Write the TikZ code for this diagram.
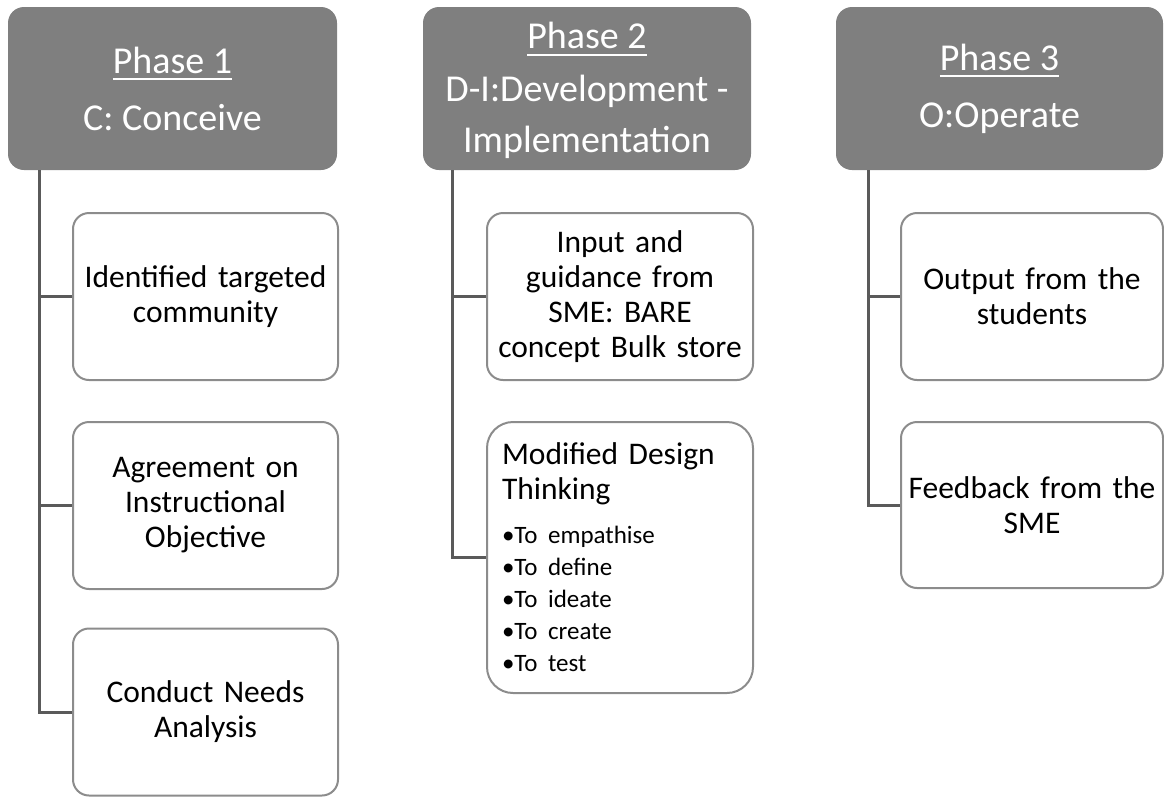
\documentclass[tikz,border=0pt]{standalone}
\usepackage{fontspec}
\setmainfont{Carlito}
\setlength{\parindent}{0pt}
\setlength{\parskip}{0pt}
\definecolor{headgray}{HTML}{7F7F7F}
\definecolor{edgegray}{HTML}{8C8C8C}
\definecolor{linegray}{HTML}{5A5A5A}
% underlined phase title with a thin rule a little below the baseline
\newcommand{\phasetitle}[1]{\setbox0\hbox{#1}\rlap{\rule[-7pt]{\wd0}{2pt}}\box0}
\tikzset{
  headbox/.style={fill=headgray, rounded corners=16pt, minimum height=163pt,
    text=white, font=\fontsize{38}{51}\selectfont, align=center, inner sep=0pt},
  childbox/.style={draw=edgegray, line width=2pt, fill=white, rounded corners=16pt,
    minimum height=167pt, align=center, text width=250pt,
    font=\fontsize{31.5}{35}\selectfont, inner sep=0pt},
  conn/.style={draw=linegray, line width=3pt}
}
\begin{document}
\begin{tikzpicture}[x=1pt,y=-1pt]
\useasboundingbox (0,0) rectangle (1164,796);

% ---- Phase 1 ----
\node[headbox, minimum width=329pt] (h1) at (172.5,88.5)
  {\phasetitle{Phase 1}\\[6pt]C: Conceive};
\node[childbox, minimum width=265pt] (c11) at (205.5,296.5)
  {Identified targeted\\community};
\node[childbox, minimum width=265pt] (c12) at (205.5,505.5)
  {Agreement on\\Instructional\\Objective};
\node[childbox, minimum width=265pt] (c13) at (205.5,712)
  {Conduct Needs\\Analysis};

% ---- Phase 2 ----
\node[headbox, minimum width=328pt] (h2) at (587,88.5)
  {\rule{0pt}{31pt}\phasetitle{Phase 2}\\[2pt]D-I:Development -\\Implementation};
\node[childbox, minimum width=266pt] (c21) at (620,296.5)
  {Input and\\guidance from\\SME: BARE\\concept Bulk store};
\node[childbox, minimum width=266pt, minimum height=271pt, rounded corners=26pt,
      align=left, text width=236pt] (c22) at (620,557.5)
  {{\fontsize{31.5}{35}\selectfont Modified Design\par Thinking\par}%
   \vskip 12pt
   {\fontsize{25}{32}\selectfont •To empathise\par •To define\par •To ideate\par
    •To create\par •To test\par}};

% ---- Phase 3 ----
\node[headbox, minimum width=327pt] (h3) at (999.5,88.5)
  {\phasetitle{Phase 3}\\[6pt]O:Operate};
\node[childbox, minimum width=262pt] (c31) at (1032,296.5)
  {Output from the\\students};
\node[childbox, minimum width=262pt, minimum height=166pt] (c32) at (1032,505)
  {Feedback from the\\SME};

% ---- connectors: a trunk under each header, branches to each box ----
\path (h1.south west) ++(32,0) coordinate (t1);
\path (h2.south west) ++(30,0) coordinate (t2);
\path (h3.south west) ++(33,0) coordinate (t3);

\draw[conn] (t1) |- (c13.west);
\draw[conn] (t1 |- c11.west) -- (c11.west);
\draw[conn] (t1 |- c12.west) -- (c12.west);

\draw[conn] (t2) |- (c22.west);
\draw[conn] (t2 |- c21.west) -- (c21.west);

\draw[conn] (t3) |- (c32.west);
\draw[conn] (t3 |- c31.west) -- (c31.west);
\end{tikzpicture}
\end{document}
